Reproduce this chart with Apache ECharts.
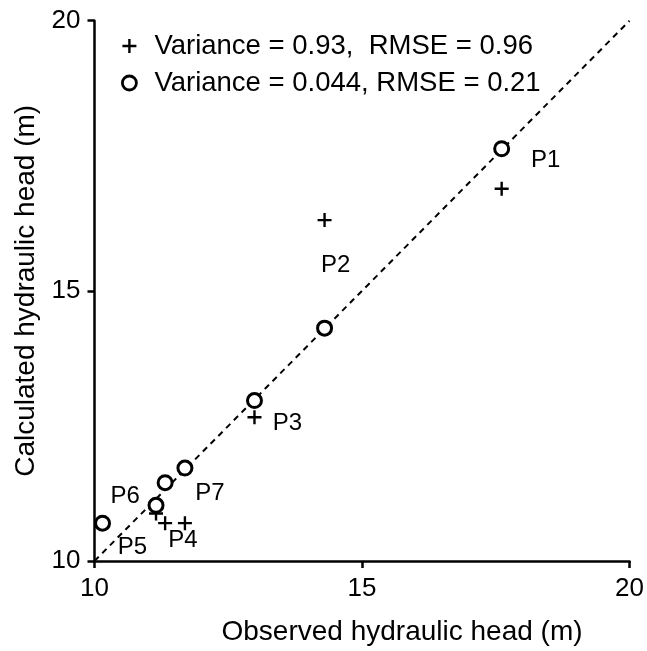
<!DOCTYPE html>
<html>
<head>
<meta charset="utf-8">
<script src="https://cdn.jsdelivr.net/npm/echarts@6/dist/echarts.min.js"></script>
<style>
html,body{margin:0;padding:0;background:#fff;}
#c{width:647px;height:651px;}
</style>
</head>
<body>
<div id="c"></div>
<script>
var pointNames = ['P1','P2','P3','P4','P5','P6','P7'];
var observed   = [17.61, 14.30, 12.99, 11.15, 10.15, 11.32, 11.69];
var calcCross  = [16.89, 16.31, 12.66, 10.88, null, 10.70, 10.70];
var calcCircle = [17.63, 14.31, 12.97, 11.03, 10.70, 11.45, 11.72];
var xTicks = [10, 15, 20];
var yTicks = [10, 15, 20];
var legendCross = 'Variance = 0.93,  RMSE = 0.96';
var legendCircle = 'Variance = 0.044, RMSE = 0.21';
var labelOffsets = [[44,12],[11,-63],[33,23],[27,35],[30,24],[-40,14],[25,25]];

var FONT = 'Liberation Sans';
var crossPath = 'path://M-1,-0.17 L1,-0.17 L1,0.17 L-1,0.17 Z M-0.17,-1 L0.17,-1 L0.17,1 L-0.17,1 Z';

var crossData = observed.map(function(x,i){ return [x, calcCross[i]]; });
var circleData = observed.map(function(x,i){ return [x, calcCircle[i]]; });
var labelData = observed.map(function(x,i){
  return {value:[x, calcCircle[i]], name: pointNames[i], label:{offset: labelOffsets[i]}};
});

var chart = echarts.init(document.getElementById('c'), null, {renderer:'canvas'});
chart.setOption({
  animation:false,
  backgroundColor:'#fff',
  grid:{left:94.5, right:16, top:20.7, bottom:89.3},
  legend:{
    left:116, top:27, orient:'vertical', itemGap:9, itemWidth:40, itemHeight:14,
    textStyle:{fontFamily:FONT, fontSize:27.5, color:'#000'},
    data:[{name:legendCross, icon:crossPath, itemStyle:{color:'#000', opacity:1}},
          {name:legendCircle, icon:'circle', itemStyle:{color:'#fff', borderColor:'#000', borderWidth:2.8, opacity:1}}],
    selectedMode:false
  },
  xAxis:{
    type:'value', min:10, max:20, interval:5,
    axisLine:{show:true, onZero:false, lineStyle:{color:'#000', width:2.5}},
    axisTick:{show:true, length:7, lineStyle:{color:'#000', width:2.5}},
    splitLine:{show:false},
    axisLabel:{margin:15, fontFamily:FONT, fontSize:26, color:'#000',
      formatter:function(v){ return xTicks.indexOf(v)>=0 ? String(v) : ''; }},
    name:'Observed hydraulic head (m)', nameLocation:'middle', nameGap:57,
    nameTextStyle:{fontFamily:FONT, fontSize:28, color:'#000', padding:[0,0,0,80]}
  },
  yAxis:{
    type:'value', min:10, max:20, interval:5,
    axisLine:{show:true, onZero:false, lineStyle:{color:'#000', width:2.5}},
    axisTick:{show:true, length:7, lineStyle:{color:'#000', width:2.5}},
    splitLine:{show:false},
    axisLabel:{margin:14, fontFamily:FONT, fontSize:26, color:'#000',
      formatter:function(v){ return yTicks.indexOf(v)>=0 ? String(v) : ''; }},
    name:'Calculated hydraulic head (m)', nameLocation:'middle', nameGap:50,
    nameTextStyle:{fontFamily:FONT, fontSize:28, color:'#000'}
  },
  series:[
    {
      type:'line', data:[[10,10],[20,20]], symbol:'none', silent:true,
      lineStyle:{color:'#000', width:2, type:[6,5]}, z:1
    },
    {
      name:legendCross, type:'scatter', data:crossData, symbol:crossPath, symbolSize:14,
      itemStyle:{color:'#000', opacity:1}, z:3
    },
    {
      name:legendCircle, type:'scatter', data:circleData, symbol:'circle', symbolSize:14,
      itemStyle:{color:'#fff', borderColor:'#000', borderWidth:3, opacity:1}, z:4
    },
    {
      type:'scatter', data:labelData, symbolSize:0, silent:true, z:5,
      itemStyle:{color:'#000', opacity:1},
      label:{show:true, position:[0,0], align:'center', verticalAlign:'middle', formatter:'{b}',
        fontFamily:FONT, fontSize:24, color:'#000'}
    }
  ]
});
</script>
</body>
</html>
